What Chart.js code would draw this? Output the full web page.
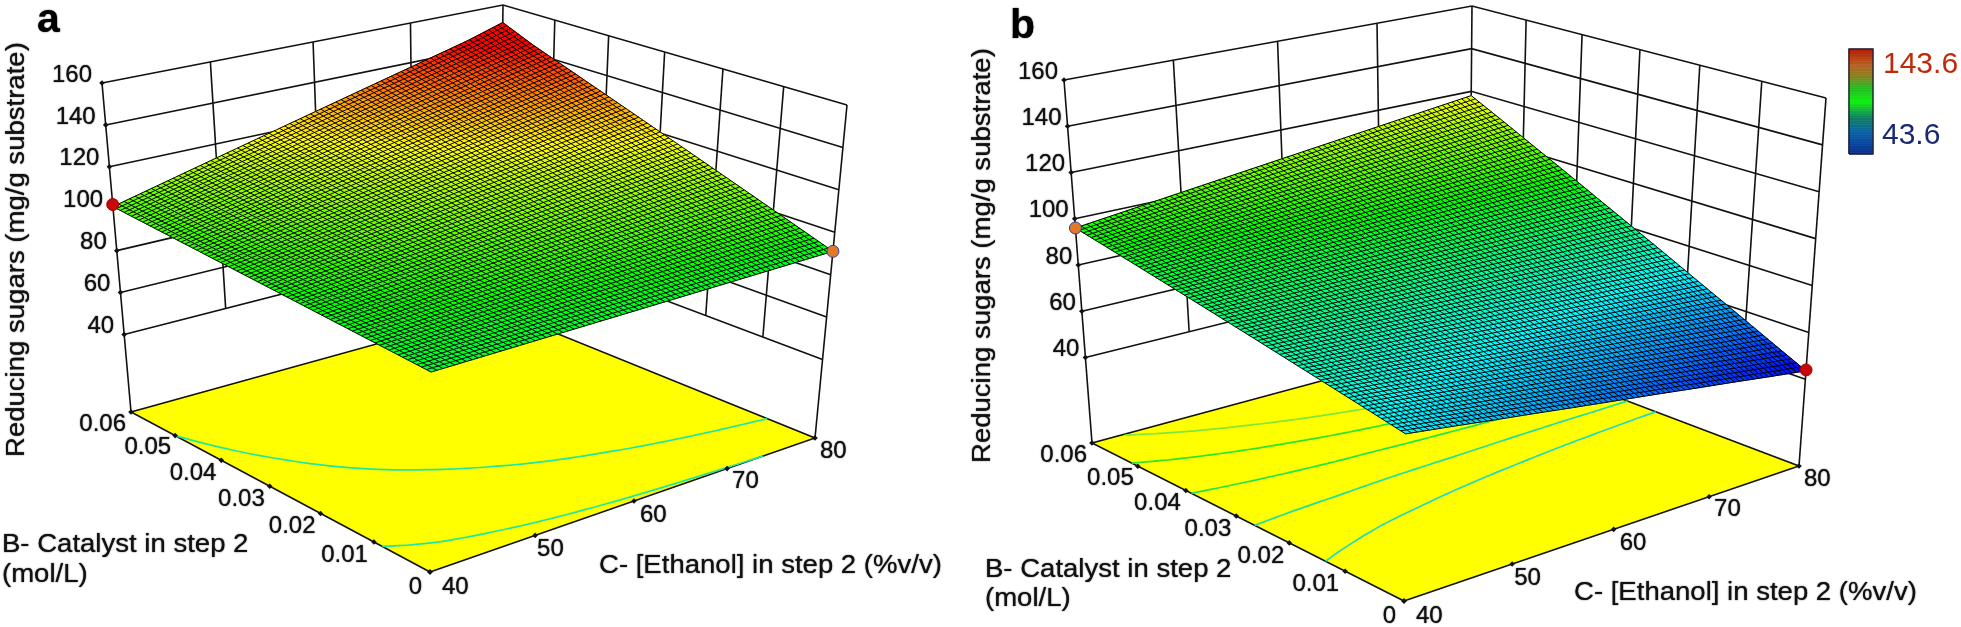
<!DOCTYPE html>
<html>
<head>
<meta charset="utf-8">
<style>html,body{margin:0;padding:0;background:#fff}canvas{display:block}</style>
<script src="https://cdn.jsdelivr.net/npm/chart.js@4"></script>
</head>
<body>
<canvas id="c" width="1961" height="627"></canvas>
<script>
// ---- tick labels and categories
const cTicks = [40, 50, 60, 70, 80];
const bTicks = [0, 0.01, 0.02, 0.03, 0.04, 0.05, 0.06];
const zTicks = [40, 60, 80, 100, 120, 140, 160];
const cLabels = ['40', '50', '60', '70', '80'];
const bLabels = ['0', '0.01', '0.02', '0.03', '0.04', '0.05', '0.06'];
const zLabels = ['40', '60', '80', '100', '120', '140', '160'];
const zTitle = 'Reducing sugars (mg/g substrate)';
const bTitle1 = 'B- Catalyst in step 2';
const bTitle2 = '(mol/L)';
const cTitle = 'C- [Ethanol] in step 2 (%v/v)';
const legendHigh = 143.6;
const legendLow = 43.6;

// ---- surface values: rows are B = 0 .. 0.06 (step 0.006), columns C = 40 .. 80 (step 4)
const surfaceA = [
 [89.0,89.2,89.4,89.6,89.8,90.0,90.2,90.4,90.6,90.8,91.0],
 [90.2,90.9,91.5,92.2,92.9,93.6,94.2,94.9,95.6,96.2,96.9],
 [91.4,92.5,93.7,94.8,96.0,97.1,98.2,99.4,100.5,101.7,102.8],
 [92.6,94.2,95.8,97.4,99.0,100.7,102.3,103.9,105.5,107.1,108.7],
 [93.8,95.9,98.0,100.0,102.1,104.2,106.3,108.4,110.4,112.5,114.6],
 [95.0,97.6,100.1,102.7,105.2,107.8,110.3,112.9,115.4,118.0,120.5],
 [96.2,99.2,102.2,105.3,108.3,111.3,114.3,117.3,120.4,123.4,126.4],
 [97.4,100.9,104.4,107.9,111.4,114.9,118.3,121.8,125.3,128.8,132.3],
 [98.6,102.6,106.5,110.5,114.4,118.4,122.4,126.3,130.3,134.2,138.2],
 [99.8,104.2,108.7,113.1,117.5,122.0,126.4,130.8,135.2,139.7,144.1],
 [101.0,105.9,110.8,115.7,120.6,125.5,130.4,135.3,140.2,145.1,151.0]
];
const surfaceB = [
 [67.0,64.7,62.3,60.0,57.6,55.3,53.0,50.6,48.3,45.9,43.6],
 [69.9,68.0,66.1,64.2,62.4,60.5,58.6,56.7,54.8,52.9,51.0],
 [72.8,71.4,69.9,68.5,67.1,65.6,64.2,62.8,61.3,59.9,58.5],
 [75.7,74.7,73.7,72.8,71.8,70.8,69.8,68.9,67.9,66.9,65.9],
 [78.6,78.1,77.6,77.0,76.5,76.0,75.5,74.9,74.4,73.9,73.4],
 [81.5,81.4,81.4,81.3,81.2,81.2,81.1,81.0,80.9,80.9,80.8],
 [84.4,84.8,85.2,85.6,85.9,86.3,86.7,87.1,87.5,87.9,88.2],
 [87.3,88.1,89.0,89.8,90.7,91.5,92.3,93.2,94.0,94.8,95.7],
 [90.2,91.5,92.8,94.1,95.4,96.7,98.0,99.2,100.5,101.8,103.1],
 [93.1,94.8,96.6,98.3,100.1,101.8,103.6,105.3,107.1,108.8,110.6],
 [96.0,98.2,100.4,102.6,104.8,107.0,109.2,111.4,113.6,115.8,118.0]
];
const contourLevelsA = [90.7, 99];
const contourLevelsB = [73.5, 79.8, 85.8, 91.8, 97.5];
const designPointsA = [[40, 0.06, 102], [80, 0, 91]];
const designPointsB = [[40, 0.06, 96], [80, 0, 44]];

// ---- view set-up of each panel (camera corners: front, right, back, left)
const panels = [
 { name:'a', floor:[[430,572],[815,438],[499,310],[131,412]], top:[[432,207],[847,105],[503,5],[102,83]],
   surface:surfaceA, levels:contourLevelsA, points:designPointsA,
   contourColors:['#20e8a0','#20e8a0'], pointColors:['#c80808','#e07a28'],
   letter:[37,32], zOff:[-10,-8], zTitle:[24,457], bT:[2,552,582], cT:[599,573] },
 { name:'b', floor:[[1404,601],[1799,466],[1469,341],[1092,443]], top:[[1408,191],[1826,98],[1472,6],[1064,80]],
   surface:surfaceB, levels:contourLevelsB, points:designPointsB,
   contourColors:['#1ddcc0','#1ee0a0','#1ee64a','#28e628','#7ee83a'], pointColors:['#e07a28','#c80808'],
   letter:[1010,38], zOff:[-6,-8], zTitle:[990,463], bT:[985,577,606], cT:[1574,600] }
];
const cLabelOff = [[12,15],[2,14],[6,14],[5,13],[5,13]];
const bLabelOff = [[-8,15],[-6,13],[-5,13],[-5,13],[-5,13],[-4,12],[-5,12]];
const Z0 = 3, Z1 = 160;
const ramp = [[43.6,[0,0,255]],[68.6,[0,255,255]],[93.6,[0,255,0]],[118.6,[255,255,0]],[143.6,[255,0,0]]];
const legendStops = [[0,'#0a2a90'],[0.2,'#0860a8'],[0.35,'#108060'],[0.5,'#10f010'],[0.62,'#20c020'],[0.75,'#8c8020'],[0.85,'#b86020'],[1,'#b81800']];

function homography(q){
  const [[x0,y0],[x1,y1],[x2,y2],[x3,y3]] = q;
  const dx1=x1-x2, dx2=x3-x2, sx=x0-x1+x2-x3, dy1=y1-y2, dy2=y3-y2, sy=y0-y1+y2-y3;
  const den=dx1*dy2-dx2*dy1;
  const g=(sx*dy2-dx2*sy)/den, h=(dx1*sy-sx*dy1)/den;
  const a=x1-x0+g*x1, b=x3-x0+h*x3, d=y1-y0+g*y1, e=y3-y0+h*y3;
  return (u,w)=>{ const s=g*u+h*w+1; return [(a*u+b*w+x0)/s,(d*u+e*w+y0)/s]; };
}
function color(z){
  if(z<=ramp[0][0]) return 'rgb('+ramp[0][1]+')';
  for(let i=1;i<ramp.length;i++){
    if(z<=ramp[i][0]){
      const f=(z-ramp[i-1][0])/(ramp[i][0]-ramp[i-1][0]);
      const c=ramp[i][1].map((v,k)=>Math.round(ramp[i-1][1][k]+(v-ramp[i-1][1][k])*f));
      return 'rgb('+c+')';
    }
  }
  return 'rgb('+ramp[ramp.length-1][1]+')';
}
function surfaceZ(S,u,w){
  const n=S.length-1, m=S[0].length-1;
  const a=Math.min(n-1,Math.floor(w*n)), b=Math.min(m-1,Math.floor(u*m));
  const fw=w*n-a, fu=u*m-b;
  return (S[a][b]*(1-fu)+S[a][b+1]*fu)*(1-fw)+(S[a+1][b]*(1-fu)+S[a+1][b+1]*fu)*fw;
}
const layers=[];
function poly(pts,o){ layers.push(Object.assign({data:pts.map(p=>({x:p[0],y:p[1]})),showLine:true,pointRadius:0,borderWidth:1.6,borderColor:'#111',fill:false,tension:0},o||{})); }
const labels=[];
panels.forEach(P=>{
  const Hf=homography(P.floor), Ht=homography(P.top);
  const uOf=c=>(c-40)/40, wOf=b=>b/0.06, tOf=z=>(z-Z0)/(Z1-Z0);
  const prj=(u,w,z)=>{ const a=Hf(u,w), b=Ht(u,w), t=tOf(z); return [a[0]+(b[0]-a[0])*t, a[1]+(b[1]-a[1])*t]; };
  // walls: horizontals
  zTicks.forEach(z=>{ poly([prj(0,1,z),prj(1,1,z),prj(1,0,z)]); });
  // walls: verticals
  cTicks.slice(1).forEach(c=>{ poly([prj(uOf(c),1,40),prj(uOf(c),1,160)]); });
  bTicks.slice(1,6).forEach(b=>{ poly([prj(1,wOf(b),40),prj(1,wOf(b),160)]); });
  poly([prj(0,1,Z0),prj(0,1,160)]);
  poly([prj(1,0,Z0),prj(1,0,160)]);
  // floor
  const fl=[[0,0],[1,0],[1,1],[0,1],[0,0]].map(q=>Hf(q[0],q[1]));
  poly(fl,{fill:'shape',backgroundColor:'#ffff00'});
  // contours
  P.levels.forEach((L,li)=>{
    let cur=[];
    const flush=()=>{ if(cur.length>1) poly(cur,{borderColor:P.contourColors[li],borderWidth:1.7}); cur=[]; };
    for(let i=0;i<=80;i++){
      const u=i/80; let found=null;
      for(let j=0;j<100&&found===null;j++){
        const w0=j/100,w1=(j+1)/100,z0=surfaceZ(P.surface,u,w0),z1=surfaceZ(P.surface,u,w1);
        if((z0-L)*(z1-L)<=0 && z0!==z1) found=w0+(L-z0)/(z1-z0)*(w1-w0);
      }
      if(found===null) flush(); else cur.push(Hf(u,found));
    }
    flush();
  });
  // ticks on floor + z axis
  const tick=(pts)=>layers.push({data:pts.map(p=>({x:p[0],y:p[1]})),showLine:false,pointStyle:'rectRot',pointRadius:2.8,pointBackgroundColor:'#111',pointBorderWidth:0});
  tick(cTicks.map(c=>Hf(uOf(c),0)));
  tick(bTicks.map(b=>Hf(0,wOf(b))));
  tick(zTicks.map(z=>prj(0,1,z)));
  // surface fill, back to front
  const M=30;
  for(let i=M-1;i>=0;i--) for(let j=0;j<M;j++){
    const u0=i/M,u1=(i+1)/M,w0=(M-1-j)/M,w1=(M-j)/M;
    const z=surfaceZ(P.surface,(u0+u1)/2,(w0+w1)/2), col=color(z);
    const q=[[u0,w0],[u1,w0],[u1,w1],[u0,w1],[u0,w0]].map(a=>prj(a[0],a[1],surfaceZ(P.surface,a[0],a[1])));
    poly(q,{fill:'shape',backgroundColor:col,borderColor:col,borderWidth:0.8});
  }
  // surface mesh
  const N=76, K=20;
  for(let i=0;i<=N;i++){
    const a=[],b=[];
    for(let k=0;k<=K;k++){
      const s=i/N,r=k/K;
      a.push(prj(s,r,surfaceZ(P.surface,s,r)));
      b.push(prj(r,s,surfaceZ(P.surface,r,s)));
    }
    poly(a,{borderWidth:1,borderColor:'#000'});
    poly(b,{borderWidth:1,borderColor:'#000'});
  }
  // design points
  P.points.forEach((p,i)=>{
    const q=prj(uOf(p[0]),wOf(p[1]),p[2]);
    layers.push({data:[{x:q[0],y:q[1]}],showLine:false,pointStyle:'circle',pointRadius:6,pointBackgroundColor:P.pointColors[i],pointBorderColor:i===0&&P.name==='a'||i===1&&P.name==='b'?'#a00':'#3040a0',pointBorderWidth:1});
  });
  // labels
  zTicks.forEach((z,i)=>{const q=prj(0,1,z);labels.push({t:zLabels[i],x:q[0]+P.zOff[0],y:q[1]+P.zOff[1],a:'right'});});
  bTicks.forEach((b,i)=>{const q=Hf(0,wOf(b));labels.push({t:bLabels[i],x:q[0]+bLabelOff[i][0],y:q[1]+bLabelOff[i][1],a:'right'});});
  cTicks.forEach((c,i)=>{const q=Hf(uOf(c),0);labels.push({t:cLabels[i],x:q[0]+cLabelOff[i][0],y:q[1]+cLabelOff[i][1],a:'left'});});
});
// legend strip
const LB={x0:1849,x1:1873,y0:154,y1:49};
(function(){
  const hex=h=>[1,3,5].map(i=>parseInt(h.substr(i,2),16));
  const n=60;
  for(let i=0;i<n;i++){
    const f=(i+0.5)/n; let c='#000';
    for(let k=1;k<legendStops.length;k++){
      if(f<=legendStops[k][0]){
        const a=hex(legendStops[k-1][1]),b=hex(legendStops[k][1]),g=(f-legendStops[k-1][0])/(legendStops[k][0]-legendStops[k-1][0]);
        c='rgb('+a.map((v,j)=>Math.round(v+(b[j]-v)*g))+')';break;
      }
    }
    const ya=LB.y0+(LB.y1-LB.y0)*i/n, yb=LB.y0+(LB.y1-LB.y0)*(i+1)/n;
    poly([[LB.x0,ya],[LB.x1,ya],[LB.x1,yb],[LB.x0,yb],[LB.x0,ya]],{fill:'shape',backgroundColor:c,borderColor:c,borderWidth:0.6});
  }
  poly([[LB.x0,LB.y0],[LB.x1,LB.y0],[LB.x1,LB.y1],[LB.x0,LB.y1],[LB.x0,LB.y0]],{borderColor:'#223',borderWidth:1.4});
})();

const textPlugin={id:'txt',afterDraw(ch){
  const c=ch.ctx, X=v=>ch.scales.x.getPixelForValue(v), Y=v=>ch.scales.y.getPixelForValue(v);
  const wide=(t,x,y,rot,sx)=>{ c.save(); c.translate(x,y); if(rot) c.rotate(rot); c.scale(sx,1); c.fillText(t,0,0); c.restore(); };
  c.save();
  c.shadowColor='#111'; c.shadowBlur=1.3;
  c.fillStyle='#111';
  c.textBaseline='middle';
  c.font='24px "Liberation Sans"';
  labels.forEach(l=>{c.textAlign=l.a;c.fillText(l.t,X(l.x),Y(l.y));});
  c.textBaseline='alphabetic';c.textAlign='left';
  panels.forEach(P=>{
    c.fillStyle='#000';
    c.font='bold 41px "Liberation Sans"';
    c.fillText(P.name,X(P.letter[0]),Y(P.letter[1]));
    c.fillStyle='#111';
    c.font='25.5px "Liberation Sans"';
    wide(bTitle1,X(P.bT[0]),Y(P.bT[1]),0,1.08);
    wide(bTitle2,X(P.bT[0]),Y(P.bT[2]),0,1.08);
    wide(cTitle,X(P.cT[0]),Y(P.cT[1]),0,1.08);
    wide(zTitle,X(P.zTitle[0]),Y(P.zTitle[1]),-Math.PI/2,1.08);
  });
  c.font='30px "Liberation Sans"';
  c.textBaseline='middle';
  c.shadowBlur=0;
  c.fillStyle='#c02a08';
  c.fillText(String(legendHigh),X(1883),Y(65));
  c.fillStyle='#1a2870';
  c.fillText(String(legendLow),X(1882),Y(136));
  c.restore();
}};

new Chart(document.getElementById('c'),{
  type:'scatter',
  data:{datasets:layers.reverse()},
  options:{
    responsive:false,animation:false,events:[],
    layout:{padding:0,autoPadding:false},
    elements:{line:{capBezierPoints:false}},
    plugins:{legend:{display:false},tooltip:{enabled:false},title:{display:false}},
    scales:{
      x:{type:'linear',min:0,max:1961,display:false},
      y:{type:'linear',min:0,max:627,reverse:true,display:false}
    }
  },
  plugins:[textPlugin]
});
</script>
</body>
</html>
